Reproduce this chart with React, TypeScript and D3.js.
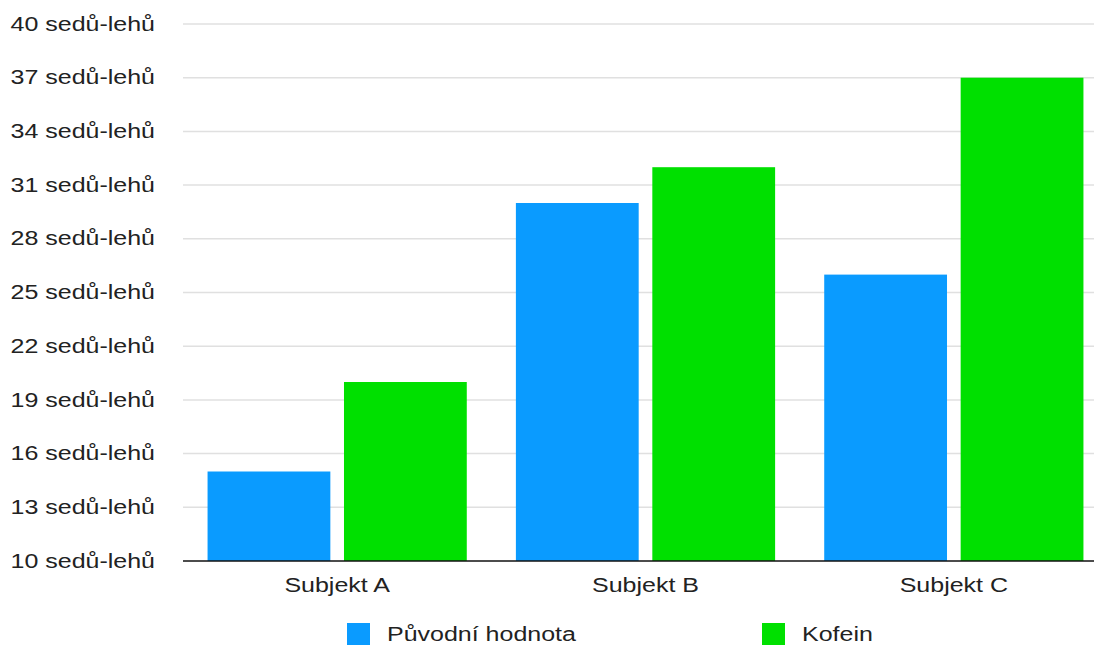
import React from "react";
import * as d3 from "d3";

const categories = ["Subjekt A", "Subjekt B", "Subjekt C"];
const seriesNames = ["Původní hodnota", "Kofein"];
const puvodni = [15, 30, 26];
const kofein = [20, 32, 37];
const yTicks = [10, 13, 16, 19, 22, 25, 28, 31, 34, 37, 40];
const unit = "sedů-lehů";
const colors = ["#0a9bff", "#00e000"];

const W = 1094;
const H = 646;
const FONT = "'Liberation Sans', Arial, Helvetica, sans-serif";
const FS = 20;
const SX = 1.25;

export default function App() {
  const x0 = d3.scaleBand<string>().domain(categories).range([183, 1108]).paddingInner(0).paddingOuter(0);
  const x1 = d3
    .scaleBand<string>()
    .domain(seriesNames)
    .range([0, x0.bandwidth()])
    .paddingInner(0.1)
    .paddingOuter(0.18);
  const y = d3.scaleLinear().domain([10, 40]).range([561, 24]);
  const data = [puvodni, kofein];
  const legendX = [347, 762];

  return (
    <svg
      width={W}
      height={H}
      style={{ position: "absolute", left: 0, top: 0, background: "#fff" }}
      fontFamily={FONT}
    >
      {yTicks.map((t) => (
        <g key={t}>
          {t !== 10 && (
            <line x1={183} x2={W} y1={y(t)} y2={y(t)} stroke="#e0e0e0" strokeWidth={1.5} />
          )}
          <text
            transform={`translate(155,${y(t)}) scale(${SX},1)`}
            textAnchor="end"
            dominantBaseline="central"
            fontSize={FS}
            fill="#222"
          >
            {t} {unit}
          </text>
        </g>
      ))}
      {categories.map((c, i) => (
        <g key={c} transform={`translate(${x0(c)},0)`}>
          {seriesNames.map((s, j) => (
            <rect
              key={s}
              x={x1(s)}
              y={y(data[j][i])}
              width={x1.bandwidth()}
              height={y(10) - y(data[j][i])}
              fill={colors[j]}
            />
          ))}
          <text
            transform={`translate(${x0.bandwidth() / 2},592) scale(${SX},1)`}
            textAnchor="middle"
            fontSize={FS}
            fill="#222"
          >
            {c}
          </text>
        </g>
      ))}
      <line x1={183} x2={W} y1={y(10)} y2={y(10)} stroke="#111" strokeWidth={1.5} />
      {seriesNames.map((s, j) => (
        <g key={s}>
          <rect x={legendX[j]} y={623} width={23} height={22} fill={colors[j]} />
          <text
            transform={`translate(${legendX[j] + 40},641) scale(${SX},1)`}
            fontSize={FS}
            fill="#222"
          >
            {s}
          </text>
        </g>
      ))}
    </svg>
  );
}
